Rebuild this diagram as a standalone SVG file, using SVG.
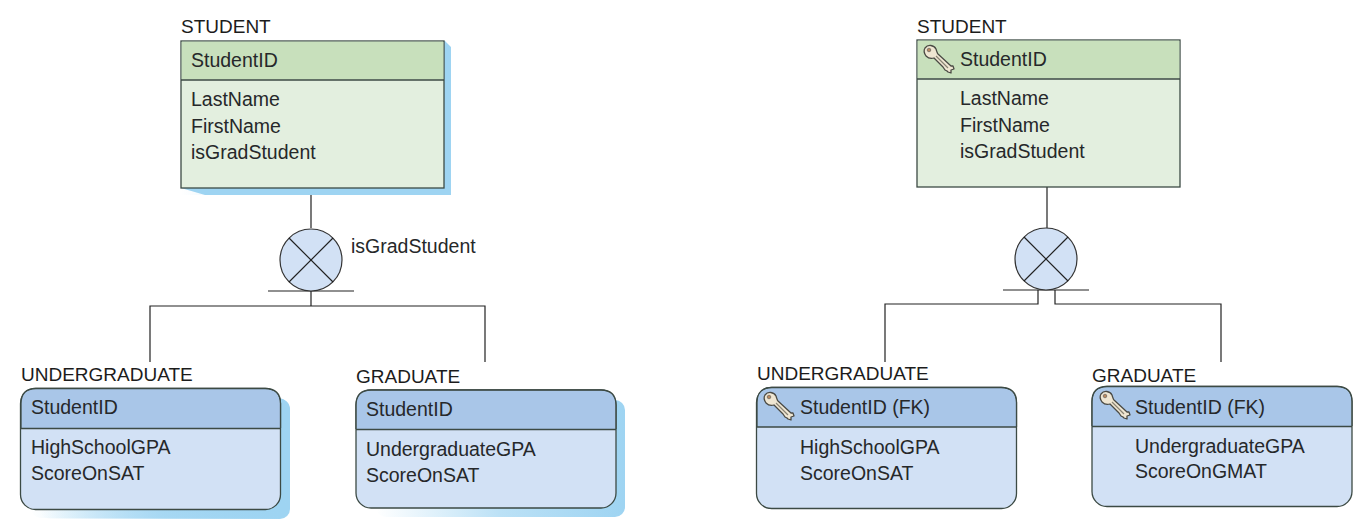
<svg xmlns="http://www.w3.org/2000/svg" xmlns:xlink="http://www.w3.org/1999/xlink" width="1359" height="526" viewBox="0 0 1359 526">
<style>
text{font-family:"Liberation Sans",Arial,sans-serif;fill:#26282a;font-size:19.5px}
.t{fill:#1c1c1c;font-size:19px}
.e{stroke:#3c4a44;stroke-width:1.3}
.line{fill:none;stroke:#222;stroke-width:1.2}
.gb{fill:#e3efdf}.gh{fill:#c8e0bc}.bb{fill:#d2e1f5}.bh{fill:#a9c6e8}
.cir{fill:#d2e1f5;stroke:#333;stroke-width:1.2}
</style>
<defs>
<linearGradient id="sv" x1="0" y1="0" x2="1" y2="0"><stop offset="0" stop-color="#9ed4f2" stop-opacity="0"/><stop offset="0.5" stop-color="#9ed4f2" stop-opacity="0.7"/><stop offset="1" stop-color="#9ed4f2"/></linearGradient>
<g id="key">
<path d="M2 3C5 -1 11 0 13 4C14 7 14 8 15 9L28 21L30 21L31 24L28 25L28 28L25 27L24 26L22 25L20 22L11 13C8 14 5 13 3 11C1 8 0 6 2 3Z" fill="#efe6d2" stroke="#4a4a44" stroke-width="1.3" stroke-linejoin="round"/>
<circle cx="6" cy="5" r="1.8" fill="#b9885e" stroke="#555" stroke-width="0.6"/>
<path d="M13 11L25 23" stroke="#8a8474" stroke-width="1.2" fill="none"/>
</g>
</defs>

<g id="connectors">
<path class="line" d="M311 188V228M311 291V306M150 362V306H485V362M268 291H354"/>
<path class="line" d="M1047 187V228M1003 290H1089M1038 290V304H885V362M1055 290V304H1221V362"/>
</g>

<g id="student-left">
<path d="M188 41H445L451 47V195H205L181 188H444V41Z" fill="#9ed4f2"/>
<rect x="181" y="188" width="270" height="7" fill="url(#sv)"/>
<rect class="gb e" x="181" y="41" width="263" height="147"/>
<rect class="gh" x="181.700" y="41.700" width="261.600" height="38"/>
<path class="e" d="M181 80H444"/>
<text class="t" x="181" y="33">STUDENT</text>
<text x="191" y="67">StudentID</text>
<text x="191" y="106">LastName</text>
<text x="191" y="133">FirstName</text>
<text x="191" y="159">isGradStudent</text>
</g>

<g id="category-left">
<circle class="cir" cx="311" cy="260" r="31"/>
<path class="line" d="M289 238L333 282M333 238L289 282"/>
<text x="351" y="253">isGradStudent</text>
</g>

<g id="undergraduate-left">
<rect x="40" y="399" width="250" height="120" rx="10" fill="url(#sv)"/>
<rect x="30" y="398" width="260" height="120" rx="12" fill="url(#sv)"/>
<rect class="bb e" x="20.500" y="388.500" width="260" height="121" rx="15"/>
<path class="bh" d="M21 428V404Q21 389 36 389H265Q280 389 280 404V428Z"/>
<path class="e" d="M21 428.500H280M21 428V403.500Q21 388.500 36 388.500H265Q280.500 388.500 280.500 403.500V428" fill="none"/>
<text class="t" x="21" y="381">UNDERGRADUATE</text>
<text x="31" y="414">StudentID</text>
<text x="31" y="454">HighSchoolGPA</text>
<text x="31" y="480">ScoreOnSAT</text>
</g>

<g id="graduate-left">
<rect x="376" y="400" width="249" height="117" rx="10" fill="url(#sv)"/>
<rect class="bb e" x="356" y="390" width="260" height="118" rx="15"/>
<path class="bh" d="M356.500 429V405Q356.500 390.500 371 390.500H601Q615.500 390.500 615.500 405V429Z"/>
<path class="e" d="M356 429.500H616M356 429V405Q356 390 371 390H601Q616 390 616 405V429" fill="none"/>
<text class="t" x="356" y="383">GRADUATE</text>
<text x="366" y="416">StudentID</text>
<text x="366" y="456">UndergraduateGPA</text>
<text x="366" y="482">ScoreOnSAT</text>
</g>

<g id="student-right">
<rect class="gb e" x="917" y="40" width="263" height="147"/>
<rect class="gh" x="917.700" y="40.700" width="261.600" height="38"/>
<path class="e" d="M917 79H1180"/>
<text class="t" x="917" y="33">STUDENT</text>
<use xlink:href="#key" href="#key" x="923" y="45"/>
<text x="960" y="66">StudentID</text>
<text x="960" y="105">LastName</text>
<text x="960" y="132">FirstName</text>
<text x="960" y="158">isGradStudent</text>
</g>

<g id="category-right">
<circle class="cir" cx="1046" cy="259" r="31"/>
<path class="line" d="M1024 237L1068 281M1068 237L1024 281"/>
</g>

<g id="undergraduate-right">
<rect class="bb e" x="756.500" y="387.500" width="260" height="121" rx="15"/>
<path class="bh" d="M757 427V403Q757 388 772 388H1001Q1016 388 1016 403V427Z"/>
<path class="e" d="M757 427H1016M757 427V402.500Q757 387.500 772 387.500H1001Q1016.500 387.500 1016.500 402.500V427" fill="none"/>
<text class="t" x="757" y="380">UNDERGRADUATE</text>
<use xlink:href="#key" href="#key" x="763" y="392"/>
<text x="800" y="414">StudentID (FK)</text>
<text x="800" y="454">HighSchoolGPA</text>
<text x="800" y="480">ScoreOnSAT</text>
</g>

<g id="graduate-right">
<rect class="bb e" x="1092" y="386.500" width="260" height="120" rx="15"/>
<path class="bh" d="M1092.500 426V402Q1092.500 387 1107 387H1337Q1351.500 387 1351.500 402V426Z"/>
<path class="e" d="M1092 426.500H1352M1092 426V401.500Q1092 386.500 1107 386.500H1337Q1352 386.500 1352 401.500V426" fill="none"/>
<text class="t" x="1092" y="382">GRADUATE</text>
<use xlink:href="#key" href="#key" x="1099" y="391"/>
<text x="1135" y="414">StudentID (FK)</text>
<text x="1135" y="453">UndergraduateGPA</text>
<text x="1135" y="478">ScoreOnGMAT</text>
</g>
</svg>
